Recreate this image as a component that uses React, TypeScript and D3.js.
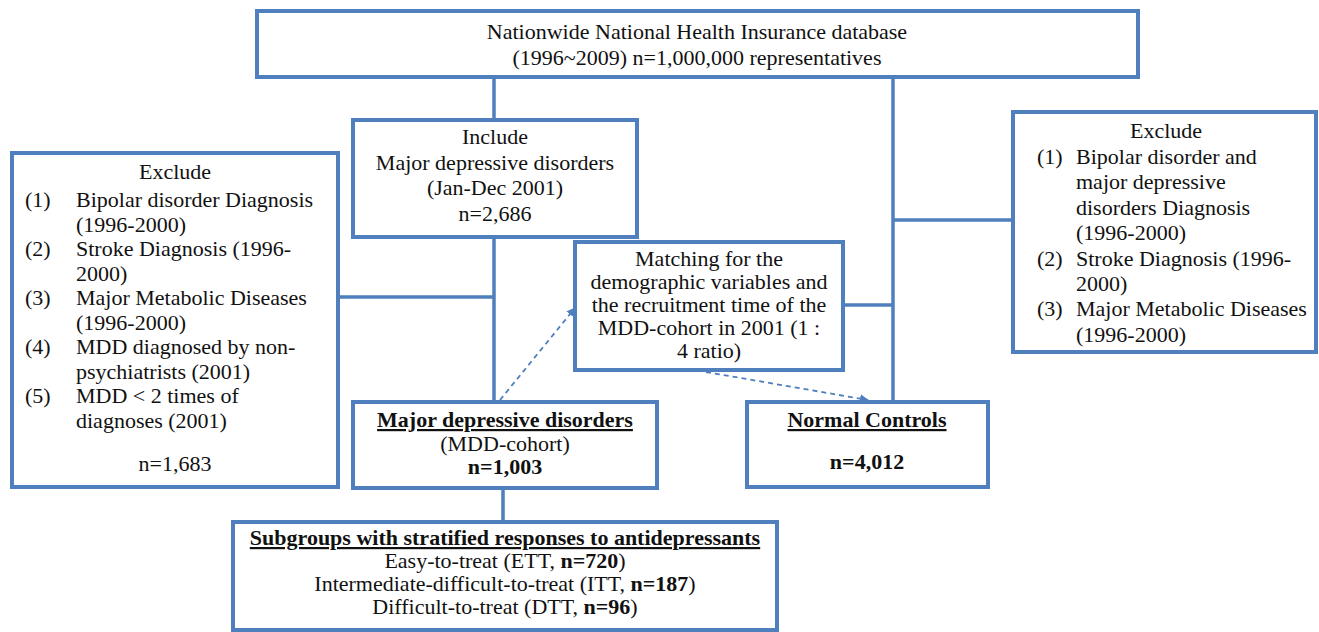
import React from 'react';
import * as d3 from 'd3';

// Flowchart text
const sourceLines = ['Nationwide National Health Insurance database', '(1996~2009) n=1,000,000 representatives'];
const includeLines = ['Include', 'Major depressive disorders', '(Jan-Dec 2001)', 'n=2,686'];
const leftExcludeItems = [
  { num: '(1)', lines: ['Bipolar disorder Diagnosis', '(1996-2000)'] },
  { num: '(2)', lines: ['Stroke Diagnosis (1996-', '2000)'] },
  { num: '(3)', lines: ['Major Metabolic Diseases', '(1996-2000)'] },
  { num: '(4)', lines: ['MDD diagnosed by non-', 'psychiatrists (2001)'] },
  { num: '(5)', lines: ['MDD < 2 times of', 'diagnoses (2001)'] }
];
const leftExcludeTotal = 'n=1,683';
const rightExcludeItems = [
  { num: '(1)', lines: ['Bipolar disorder and', 'major depressive', 'disorders Diagnosis', '(1996-2000)'] },
  { num: '(2)', lines: ['Stroke Diagnosis (1996-', '2000)'] },
  { num: '(3)', lines: ['Major Metabolic Diseases', '(1996-2000)'] }
];
const matchingLines = ['Matching for the', 'demographic variables and', 'the recruitment time of the', 'MDD-cohort in 2001 (1 :', '4 ratio)'];
const mddLines = [
  [{ t: 'Major depressive disorders', b: true, u: true }],
  [{ t: '(MDD-cohort)' }],
  [{ t: 'n=1,003', b: true }]
];
const controlLines = [
  [{ t: 'Normal Controls', b: true, u: true }],
  [{ t: 'n=4,012', b: true }]
];
const subgroupLines = [
  [{ t: 'Subgroups with stratified responses to antidepressants', b: true, u: true }],
  [{ t: 'Easy-to-treat (ETT, ' }, { t: 'n=720', b: true }, { t: ')' }],
  [{ t: 'Intermediate-difficult-to-treat (ITT, ' }, { t: 'n=187', b: true }, { t: ')' }],
  [{ t: 'Difficult-to-treat (DTT, ', }, { t: 'n=96', b: true }, { t: ')' }]
];

const W = 1319;
const H = 632;
const BLUE = '#4f7fbd';
const FONT = "'Liberation Serif', 'DejaVu Serif', serif";
const FS = 22;

type Seg = { t: string; b?: boolean; u?: boolean };

const Rect = ({ x, y, w, h }: { x: number; y: number; w: number; h: number }) => (
  <rect x={x} y={y} width={w} height={h} fill="#fff" stroke={BLUE} strokeWidth={4} />
);

const RichLines = ({ cx, y0, dy, lines }: { cx: number; y0: number; dy: number[]; lines: Seg[][] }) => (
  <g>
    {lines.map((segs, i) => (
      <text key={i} x={cx} y={y0 + dy[i]} textAnchor="middle">
        {segs.map((s, j) => (
          <tspan key={j} fontWeight={s.b ? 'bold' : 'normal'} textDecoration={s.u ? 'underline' : undefined}>{s.t}</tspan>
        ))}
      </text>
    ))}
  </g>
);

const ListBox = ({ numX, textX, y0, step, items }: { numX: number; textX: number; y0: number; step: number; items: { num: string; lines: string[] }[] }) => {
  let row = 0;
  return (
    <g>
      {items.map((it, i) => {
        const start = row;
        row += it.lines.length;
        return (
          <g key={i}>
            <text x={numX} y={y0 + start * step}>{it.num}</text>
            {it.lines.map((l, k) => (
              <text key={k} x={textX} y={y0 + (start + k) * step}>{l}</text>
            ))}
          </g>
        );
      })}
    </g>
  );
};

export default function App() {
  const line = d3.line();
  const seg = (pts: [number, number][]) => line(pts) || '';

  return (
    <svg width={W} height={H} style={{ position: 'absolute', left: 0, top: 0, background: '#fff', fontFamily: FONT, fontSize: FS }}
      fill="#111">
      <defs>
        <marker id="arr" viewBox="0 0 10 10" refX="9" refY="5" markerWidth="5" markerHeight="5" orient="auto">
          <path d="M0,0 L10,5 L0,10 z" fill={BLUE} />
        </marker>
      </defs>

      {/* connectors */}
      <g stroke={BLUE} strokeWidth={3.5} fill="none">
        <path d={seg([[494, 77], [494, 120]])} />
        <path d={seg([[494, 237], [494, 403]])} />
        <path d={seg([[338, 297], [494, 297]])} />
        <path d={seg([[893, 77], [893, 402]])} />
        <path d={seg([[843, 305], [893, 305]])} />
        <path d={seg([[893, 220], [1013, 220]])} />
        <path d={seg([[503, 488], [503, 522]])} />
      </g>
      <g stroke={BLUE} strokeWidth={1.8} fill="none" strokeDasharray="5,4">
        <path d={seg([[500, 400], [575, 308]])} markerEnd="url(#arr)" />
        <path d={seg([[706, 372], [868, 400]])} markerEnd="url(#arr)" />
      </g>

      {/* source */}
      <Rect x={257} y={11} w={881} h={66} />
      {sourceLines.map((l, i) => (
        <text key={i} x={697} y={39 + i * 26} textAnchor="middle">{l}</text>
      ))}

      {/* include */}
      <Rect x={353} y={120} w={284} h={117} />
      {includeLines.map((l, i) => (
        <text key={i} x={495} y={144 + i * 25.5} textAnchor="middle">{l}</text>
      ))}

      {/* left exclude */}
      <Rect x={12} y={153} w={326} h={334} />
      <text x={175} y={179} textAnchor="middle">Exclude</text>
      <ListBox numX={25} textX={76} y0={207} step={24.5} items={leftExcludeItems} />
      <text x={175} y={471} textAnchor="middle">{leftExcludeTotal}</text>

      {/* right exclude */}
      <Rect x={1013} y={112} w={303} h={240} />
      <text x={1166} y={138} textAnchor="middle">Exclude</text>
      <ListBox numX={1037} textX={1076} y0={164} step={25.4} items={rightExcludeItems} />

      {/* matching */}
      <Rect x={575} y={242} w={268} h={128} />
      {matchingLines.map((l, i) => (
        <text key={i} x={709} y={266 + i * 23} textAnchor="middle">{l}</text>
      ))}

      {/* MDD cohort */}
      <Rect x={353} y={402} w={304} h={86} />
      <RichLines cx={505} y0={427} dy={[0, 24, 47]} lines={mddLines} />

      {/* controls */}
      <Rect x={747} y={402} w={241} h={85} />
      <RichLines cx={867} y0={427} dy={[0, 42]} lines={controlLines} />

      {/* subgroups */}
      <Rect x={233} y={522} w={544} h={108} />
      <RichLines cx={505} y0={545} dy={[0, 22.5, 45.5, 68.5]} lines={subgroupLines} />
    </svg>
  );
}
